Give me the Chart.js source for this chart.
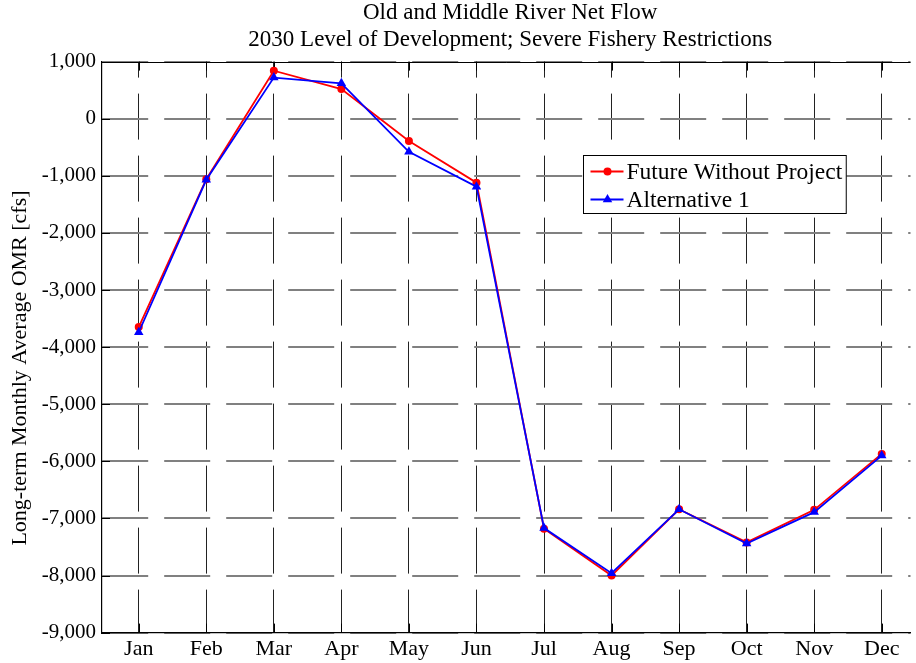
<!DOCTYPE html>
<html>
<head>
<meta charset="utf-8">
<script src="https://cdn.jsdelivr.net/npm/chart.js@4.4.0/dist/chart.umd.min.js"></script>
<style>
  html, body { margin: 0; padding: 0; background: #fff; }
  #wrap { width: 916px; height: 663px; }
</style>
</head>
<body>
<div id="wrap"><canvas id="omr" width="916" height="663"></canvas></div>
<script>
// Monthly categories
const months = ['Jan', 'Feb', 'Mar', 'Apr', 'May', 'Jun', 'Jul', 'Aug', 'Sep', 'Oct', 'Nov', 'Dec'];

// Long-term monthly average OMR flow [cfs]
const futureWithoutProject = [-3650, -1060, 840, 520, -390, -1120, -7180, -8000, -6840, -7420, -6850, -5870];
const alternative1 = [-3740, -1070, 720, 620, -580, -1190, -7170, -7960, -6840, -7440, -6890, -5900];

// Y axis tick values
const yTickValues = [1000, 0, -1000, -2000, -3000, -4000, -5000, -6000, -7000, -8000, -9000];

const titleLines = ['Old and Middle River Net Flow', '2030 Level of Development; Severe Fishery Restrictions'];
const yAxisTitle = 'Long-term Monthly Average OMR [cfs]';

const FONT = '"Liberation Serif", "Times New Roman", serif';

const toPoints = arr => arr.map((v, i) => ({ x: i, y: v }));

// Two-line title centred over the full axes box, plus the rotated y-axis label
const titlePlugin = {
  id: 'twoLineTitle',
  afterDraw(chart) {
    const { ctx } = chart;
    const xs = chart.scales.x;
    const cx = xs.getPixelForValue(5.5);
    ctx.save();
    ctx.fillStyle = '#000';
    ctx.font = `23px ${FONT}`;
    ctx.textAlign = 'center';
    ctx.textBaseline = 'middle';
    ctx.fillText(titleLines[0], cx, 13);
    ctx.fillText(titleLines[1], cx, 40);

    ctx.font = `22px ${FONT}`;
    ctx.translate(20, 368);
    ctx.rotate(-Math.PI / 2);
    ctx.fillText(yAxisTitle, 0, 0);
    ctx.restore();
  }
};

// Frame and inward tick marks
const framePlugin = {
  id: 'frame',
  beforeDatasetsDraw(chart) {
    const { ctx, chartArea: a } = chart;
    const xs = chart.scales.x, ys = chart.scales.y;
    ctx.save();
    ctx.strokeStyle = '#000';
    ctx.lineWidth = 1;
    ctx.beginPath();
    ctx.moveTo(a.left, Math.round(a.top) + 0.5);
    ctx.lineTo(a.right, Math.round(a.top) + 0.5);
    ys.ticks.forEach(t => {
      const y = Math.round(ys.getPixelForValue(t.value)) + 0.5;
      ctx.moveTo(a.left, y);
      ctx.lineTo(a.left + 8, y);
    });
    xs.ticks.forEach(t => {
      const x = Math.round(xs.getPixelForValue(t.value)) + 0.5;
      ctx.moveTo(x, a.bottom);
      ctx.lineTo(x, a.bottom - 9);
      ctx.moveTo(x, a.top);
      ctx.lineTo(x, a.top + 9);
    });
    ctx.stroke();
    ctx.restore();
  }
};

// Boxed legend inside the plot
function drawMarker(ctx, style, x, y, r) {
  ctx.beginPath();
  if (style === 'triangle') {
    for (let k = 0; k < 3; k++) {
      const ang = k * 2 * Math.PI / 3;
      const px = x + Math.sin(ang) * r, py = y - Math.cos(ang) * r;
      if (k === 0) ctx.moveTo(px, py); else ctx.lineTo(px, py);
    }
    ctx.closePath();
  } else {
    ctx.arc(x, y, r, 0, Math.PI * 2);
  }
  ctx.fill();
}

const legendPlugin = {
  id: 'boxLegend',
  afterDraw(chart) {
    const { ctx, chartArea: a } = chart;
    const entries = [chart.data.datasets[1], chart.data.datasets[0]];
    ctx.save();
    ctx.font = `23.5px ${FONT}`;
    const tw = Math.max(...entries.map(d => ctx.measureText(d.label).width));
    const bx = Math.round(a.left + 481) + 0.5;
    const by = Math.round(a.top + 93) + 0.5;
    const w = 43 + tw + 4;
    const h = 58;
    ctx.fillStyle = '#fff';
    ctx.fillRect(bx, by, w, h);
    ctx.strokeStyle = '#000';
    ctx.lineWidth = 1;
    ctx.strokeRect(bx, by, w, h);
    entries.forEach((d, i) => {
      const cy = by + 16 + i * 28;
      ctx.strokeStyle = d.borderColor;
      ctx.lineWidth = d.borderWidth;
      ctx.beginPath();
      ctx.moveTo(bx + 7, cy);
      ctx.lineTo(bx + 40, cy);
      ctx.stroke();
      ctx.fillStyle = d.pointBackgroundColor;
      drawMarker(ctx, d.pointStyle, bx + 24, cy, d.pointStyle === 'triangle' ? 5.5 : 4);
      ctx.fillStyle = '#000';
      ctx.textAlign = 'left';
      ctx.textBaseline = 'middle';
      ctx.fillText(d.label, bx + 43, cy + 1);
    });
    ctx.restore();
  }
};

new Chart(document.getElementById('omr'), {
  type: 'line',
  data: {
    datasets: [
      {
        label: 'Alternative 1',
        data: toPoints(alternative1),
        borderColor: '#0000ff',
        backgroundColor: '#0000ff',
        pointBackgroundColor: '#0000ff',
        pointBorderColor: '#0000ff',
        pointStyle: 'triangle',
        pointRadius: 5.5,
        pointBorderWidth: 0,
        borderWidth: 1.8,
        tension: 0,
        order: 1
      },
      {
        label: 'Future Without Project',
        data: toPoints(futureWithoutProject),
        borderColor: '#ff0000',
        backgroundColor: '#ff0000',
        pointBackgroundColor: '#ff0000',
        pointBorderColor: '#ff0000',
        pointStyle: 'circle',
        pointRadius: 4,
        pointBorderWidth: 0,
        borderWidth: 1.8,
        tension: 0,
        order: 2
      }
    ]
  },
  options: {
    responsive: false,
    animation: false,
    events: [],
    layout: { padding: { top: 61.6, right: 0, bottom: 0, left: 0 } },
    plugins: {
      legend: { display: false },
      title: { display: false },
      tooltip: { enabled: false }
    },
    scales: {
      x: {
        type: 'linear',
        min: -0.544,
        max: 11.426,
        afterBuildTicks: s => { s.ticks = months.map((_, i) => ({ value: i })); },
        afterFit: s => { s.height = 30.4; },
        ticks: {
          callback: v => months[v] ?? '',
          color: '#000',
          font: { family: FONT, size: 22 },
          padding: 3,
          maxRotation: 0,
          autoSkip: false
        },
        grid: {
          color: '#222',
          lineWidth: 1,
          drawTicks: false
        },
        border: {
          display: true,
          color: '#000',
          width: 1.2,
          dash: [46, 16],
          dashOffset: 30
        }
      },
      y: {
        type: 'linear',
        min: -9000,
        max: 1000,
        afterBuildTicks: s => { s.ticks = yTickValues.map(v => ({ value: v })); },
        afterFit: s => { s.width = 102; },
        ticks: {
          callback: v => Number(v).toLocaleString('en-US'),
          color: '#000',
          font: { family: FONT, size: 21 },
          padding: 6
        },
        grid: {
          color: '#808080',
          lineWidth: 2,
          drawTicks: false
        },
        border: {
          display: true,
          color: '#000',
          width: 1.2,
          dash: [46, 16],
          dashOffset: 0
        },
        title: { display: false }
      }
    }
  },
  plugins: [framePlugin, titlePlugin, legendPlugin]
});
</script>
</body>
</html>
